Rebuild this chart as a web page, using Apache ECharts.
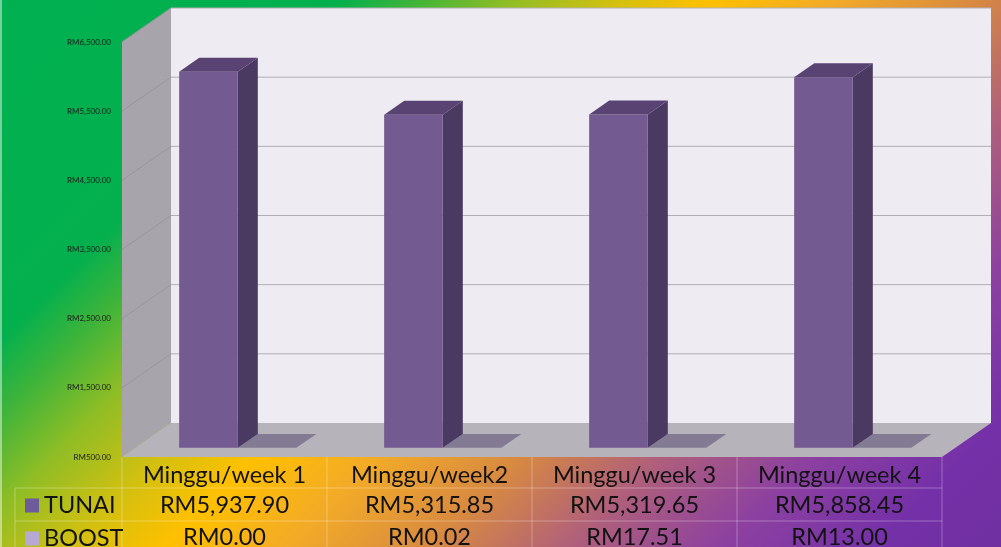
<!DOCTYPE html>
<html>
<head>
<meta charset="utf-8">
<script src="https://cdn.jsdelivr.net/npm/echarts@6/dist/echarts.min.js"></script>
<style>
  html, body { margin: 0; padding: 0; }
  #chart { width: 1001px; height: 547px; }
</style>
</head>
<body>
<div id="chart"></div>
<script>
const categories = ['Minggu/week 1', 'Minggu/week2', 'Minggu/week 3', 'Minggu/week 4'];
const tunai = [5937.90, 5315.85, 5319.65, 5858.45];
const boost = [0.00, 0.02, 17.51, 13.00];
const seriesNames = ['TUNAI', 'BOOST'];
const yTicks = [500, 1500, 2500, 3500, 4500, 5500, 6500];

const FONT = 'Lato, "Open Sans", sans-serif';
const TEXT = '#121212';
const KEY_COLORS = ['#6d5b9c', '#b6a9d3'];
const DEPTH = [49, -34];        // fake 3D depth offset in px
const BAR_DEPTH = [0.27, 0.68]; // bar front/back as fraction of depth
const GAP = 1.5;                // gap width, like excel 150%
const ROWS = [31, 33, 33];      // table row heights
const yMin = yTicks[0];

const rm = v => 'RM' + v.toLocaleString('en-US', { minimumFractionDigits: 2, maximumFractionDigits: 2 });

const chart = echarts.init(document.getElementById('chart'));

function renderWalls(params, api) {
  const cs = params.coordSys;
  const [dx, dy] = DEPTH;
  const x0 = cs.x, x1 = cs.x + cs.width, y0 = cs.y, y1 = cs.y + cs.height;
  const children = [
    { type: 'polygon', shape: { points: [[x0, y0], [x0 + dx, y0 + dy], [x0 + dx, y1 + dy], [x0, y1]] }, style: { fill: '#a7a5ab' } },
    { type: 'rect', shape: { x: x0 + dx, y: y0 + dy, width: cs.width, height: cs.height }, style: { fill: '#eeecf2' } },
    { type: 'polygon', shape: { points: [[x0, y1], [x1, y1], [x1 + dx, y1 + dy], [x0 + dx, y1 + dy]] }, style: { fill: '#b6b4ba' } },
  ];
  yTicks.slice(1).forEach(t => {
    const y = api.coord([0, t])[1];
    children.push({ type: 'line', shape: { x1: x0 + dx, y1: y + dy, x2: x1 + dx, y2: y + dy }, style: { stroke: '#b1afb5', lineWidth: 1 } });
    children.push({ type: 'line', shape: { x1: x0, y1: y, x2: x0 + dx, y2: y + dy }, style: { stroke: '#98969c', lineWidth: 1 } });
  });
  return { type: 'group', children };
}

function barRenderer(slot, faces) {
  return function (params, api) {
    const i = api.value(0);
    const v = Math.max(api.value(1), yMin);
    const band = api.size([1, 0])[0];
    const w = band / (2 + GAP);
    const top = api.coord([i, v])[1];
    const bot = api.coord([i, yMin])[1];
    const L = api.coord([i, v])[0] - w + slot * w;
    const R = L + w;
    const o0 = [BAR_DEPTH[0] * DEPTH[0], BAR_DEPTH[0] * DEPTH[1]];
    const o1 = [BAR_DEPTH[1] * DEPTH[0], BAR_DEPTH[1] * DEPTH[1]];
    return {
      type: 'group',
      children: [
        { type: 'polygon', shape: { points: [[R + o0[0], top + o0[1]], [R + o1[0], top + o1[1]], [R + o1[0], bot + o1[1]], [R + o0[0], bot + o0[1]]] }, style: { fill: faces.side } },
        { type: 'rect', shape: { x: L + o0[0], y: top + o0[1], width: w, height: bot - top }, style: { fill: faces.front } },
        { type: 'polygon', shape: { points: [[L + o0[0], top + o0[1]], [R + o0[0], top + o0[1]], [R + o1[0], top + o1[1]], [L + o1[0], top + o1[1]]] }, style: { fill: faces.top } },
      ]
    };
  };
}

function renderTable(params, api) {
  const cs = params.coordSys;
  const i = api.value(0);
  const band = api.size([1, 0])[0];
  const cx = api.coord([i, yMin])[0];
  const y0 = cs.y + cs.height;
  const rowY = [y0, y0 + ROWS[0], y0 + ROWS[0] + ROWS[1], y0 + ROWS[0] + ROWS[1] + ROWS[2]];
  const mid = r => (rowY[r] + rowY[r + 1]) / 2;
  const line = 'rgba(255,255,255,0.3)';
  const font = '23.5px ' + FONT;
  const txt = (s, x, y, align) => ({ type: 'text', style: { text: s, x, y, font, fill: TEXT, textAlign: align, textVerticalAlign: 'middle' } });
  const children = [
    txt(categories[i], cx, mid(0) + 3, 'center'),
    txt(rm(tunai[i]), cx, mid(1) + 1, 'center'),
    txt(rm(boost[i]), cx, mid(2), 'center'),
    { type: 'line', shape: { x1: cx + band / 2, y1: y0, x2: cx + band / 2, y2: 560 }, style: { stroke: line, lineWidth: 1 } },
  ];
  if (i === 0) {
    const xl = cs.x, xr = cs.x + cs.width;
    children.push(
      { type: 'line', shape: { x1: xl, y1: y0, x2: xl, y2: 560 }, style: { stroke: line, lineWidth: 1 } },
      { type: 'line', shape: { x1: 15, y1: rowY[1], x2: 15, y2: 560 }, style: { stroke: line, lineWidth: 1 } },
      { type: 'line', shape: { x1: 15, y1: rowY[1], x2: xr, y2: rowY[1] }, style: { stroke: line, lineWidth: 1 } },
      { type: 'line', shape: { x1: 15, y1: rowY[2], x2: xr, y2: rowY[2] }, style: { stroke: line, lineWidth: 1 } }
    );
    // legend keys in the table's first column
    seriesNames.forEach((name, k) => {
      const y = mid(k + 1) + 1;
      children.push(
        { type: 'rect', shape: { x: 25, y: y - 7, width: 14, height: 14 }, style: { fill: KEY_COLORS[k] } },
        txt(name, 44, y, 'left')
      );
    });
  }
  return { type: 'group', children };
}

chart.setOption({
  animation: false,
  backgroundColor: {
    type: 'linear', x: 0, y: 0, x2: 774, y2: 774, global: true,
    colorStops: [
      { offset: 0, color: '#00b050' },
      { offset: 0.22, color: '#04b04e' },
      { offset: 0.27, color: '#40b43a' },
      { offset: 0.33, color: '#90bd25' },
      { offset: 0.4, color: '#d4c010' },
      { offset: 0.46, color: '#ffc000' },
      { offset: 0.54, color: '#f2aa28' },
      { offset: 0.63, color: '#d88a40' },
      { offset: 0.72, color: '#b0607a' },
      { offset: 0.82, color: '#8c40a0' },
      { offset: 0.92, color: '#7430a8' },
      { offset: 1, color: '#7030a0' }
    ]
  },
  graphic: [
    { type: 'rect', left: 0, top: 0, shape: { width: 2, height: 547 }, style: { fill: 'rgba(255,255,255,0.45)' }, silent: true }
  ],
  grid: { left: 122, right: 59, top: 42, bottom: 90 },
  xAxis: {
    type: 'category',
    data: categories,
    show: false
  },
  yAxis: {
    type: 'value',
    min: 500, max: 6500, interval: 500,
    axisLine: { show: false },
    axisTick: { show: false },
    splitLine: { show: false },
    axisLabel: {
      margin: 11,
      fontSize: 8,
      fontFamily: FONT,
      color: '#1a1a1a',
      formatter: v => ((v - yMin) % 1000 === 0 ? rm(v) : '')
    }
  },
  series: [
    {
      type: 'custom', name: 'walls', silent: true, z: 1,
      data: [[0, yMin]],
      renderItem: renderWalls
    },
    {
      type: 'custom', name: seriesNames[1], z: 2,
      itemStyle: { color: KEY_COLORS[1] },
      data: boost.map((v, i) => [i, v]),
      encode: { x: 0, y: 1 },
      renderItem: barRenderer(1, { front: '#b3a4cc', side: '#7e7694', top: '#827b93' })
    },
    {
      type: 'custom', name: seriesNames[0], z: 3,
      itemStyle: { color: KEY_COLORS[0] },
      data: tunai.map((v, i) => [i, v]),
      encode: { x: 0, y: 1 },
      renderItem: barRenderer(0, { front: '#735a90', side: '#4a3a62', top: '#584373' })
    },
    {
      type: 'custom', name: 'table', silent: true, z: 4,
      data: categories.map((c, i) => [i, yMin]),
      encode: { x: 0, y: 1 },
      renderItem: renderTable
    }
  ]
});
</script>
</body>
</html>
